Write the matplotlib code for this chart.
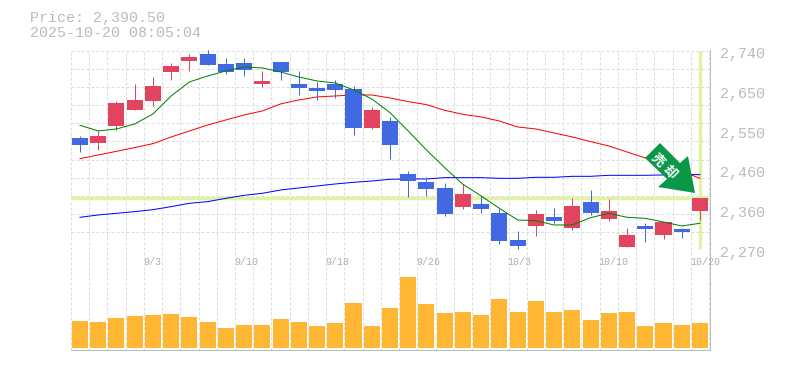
import matplotlib
matplotlib.use("Agg")
import matplotlib.pyplot as plt
from matplotlib.patches import Polygon

# candle data
opens = [2534.5, 2522.7, 2562.8, 2600.5, 2621.6, 2689.9, 2715.8, 2732.3, 2708.8, 2711.1, 2661.7, 2713.5, 2661.7, 2652.3, 2661.7, 2649.9, 2558.0, 2574.5,
         2449.7, 2430.9, 2416.8, 2372.0, 2379.1, 2357.9, 2294.3, 2327.3, 2348.5, 2322.6, 2383.8, 2343.8, 2277.8, 2327.3, 2306.1, 2320.2, 2362.6]
closes = [2518.0, 2539.2, 2616.9, 2624.0, 2657.0, 2704.0, 2725.3, 2706.4, 2689.9, 2694.6, 2668.7, 2689.9, 2652.3, 2645.2, 2647.6, 2558.0, 2600.5, 2518.0,
          2433.2, 2414.4, 2355.5, 2402.6, 2367.3, 2291.9, 2280.2, 2355.5, 2339.0, 2374.4, 2357.9, 2362.6, 2306.1, 2320.2, 2336.7, 2313.1, 2392.0]
highs = [2539.2, 2550.2, 2621.6, 2661.7, 2678.2, 2711.1, 2732.3, 2741.8, 2722.9, 2722.9, 2692.3, 2713.5, 2692.3, 2666.4, 2671.1, 2657.0, 2607.5, 2584.0,
         2456.8, 2442.7, 2428.5, 2426.2, 2397.9, 2367.3, 2315.5, 2365.0, 2369.7, 2393.2, 2412.0, 2390.9, 2322.6, 2334.3, 2336.7, 2322.6, 2392.0]
lows = [2501.5, 2506.3, 2553.3, 2600.5, 2609.9, 2671.1, 2692.3, 2706.4, 2685.2, 2680.5, 2654.6, 2671.1, 2635.8, 2624.0, 2628.7, 2541.6, 2555.7, 2485.1,
        2396.4, 2397.9, 2350.8, 2367.3, 2357.9, 2284.9, 2273.1, 2303.7, 2334.3, 2317.9, 2353.2, 2339.0, 2277.8, 2289.6, 2296.6, 2299.0, 2341.4]

ma_green = [2564.3, 2551.0, 2555.7, 2567.5, 2591.0, 2633.4, 2666.4, 2680.5, 2692.3, 2701.7, 2699.4, 2689.9, 2678.2, 2668.7, 2664.0, 2647.6, 2626.4, 2594.2,
            2551.0, 2506.3, 2464.6, 2425.4, 2397.9, 2368.9, 2341.4, 2339.8, 2329.6, 2329.6, 2346.9, 2357.1, 2347.7, 2345.3, 2336.7, 2327.3, 2333.6]
ma_red = [2485.8, 2494.5, 2503.1, 2511.8, 2521.2, 2536.9, 2551.0, 2565.1, 2576.9, 2588.7, 2598.1, 2614.6, 2624.0, 2631.1, 2633.4, 2635.8, 2635.8, 2628.7,
          2620.1, 2613.0, 2599.7, 2590.2, 2584.0, 2574.5, 2560.4, 2555.7, 2546.3, 2536.9, 2525.9, 2515.7, 2501.5, 2487.4, 2471.7, 2456.0, 2439.5]
ma_blue = [2347.7, 2353.2, 2357.1, 2361.0, 2365.7, 2372.8, 2380.6, 2384.6, 2392.4, 2399.5, 2404.2, 2412.0, 2416.8, 2421.5, 2426.2, 2430.1, 2433.2, 2437.2,
           2438.0, 2438.0, 2441.1, 2441.1, 2441.1, 2439.5, 2439.5, 2441.9, 2441.9, 2444.2, 2444.2, 2446.6, 2446.6, 2446.6, 2447.4, 2448.2, 2448.2]

volumes = [810, 780, 900, 960, 990, 1020, 930, 780, 600, 690, 690, 870, 780, 660, 750, 1350, 660, 1200,
           2130, 1320, 1050, 1080, 990, 1470, 1080, 1410, 1080, 1140, 840, 1050, 1080, 660, 750, 690, 750]

# tick spots are even, the labels are rounded to tens
y_ticks = [2270, 2364, 2458, 2552, 2646, 2740]
y_tick_labels = ["2,270", "2,360", "2,460", "2,550", "2,650", "2,740"]
date_pos = [4, 9, 14, 19, 24, 29, 34]
date_labels = ["9/3", "9/10", "9/18", "9/26", "10/3", "10/10", "10/20"]
last_price = 2392.0

W, H = 785, 370
UP = "#e2445f"
DOWN = "#4169e1"
GRID = "#dddddd"
AXIS = "#bbbbbb"
HILITE = "#e0f3a0"
MONO = "Liberation Mono"
DASH = (0, (3, 2))
PX = 0.72  # one pixel at dpi 100


def px_rect(left, top, right, bottom):
    return [left / W, 1 - bottom / H, (right - left) / W, (bottom - top) / H]


fig = plt.figure(figsize=(W / 100, H / 100), dpi=100)
ax = fig.add_axes(px_rect(70.5, 50.7, 710, 250.3))
vol = fig.add_axes(px_rect(70.5, 250.3, 710, 350))

n = len(opens)
xs = list(range(n))
xlim = (-0.52, 34.55)

# price pane
ax.set_xlim(xlim)
ax.set_ylim(2270, 2740)
ax.set_xticks([i - 0.5 for i in range(n + 1)])
ax.set_yticks([2270 + i * 470 / 11 for i in range(12)])
ax.tick_params(length=0, labelbottom=False, labelleft=False)
ax.grid(True, color=GRID, linestyle=DASH, linewidth=PX)
ax.set_axisbelow(True)
for s in ["top", "left", "right"]:
    ax.spines[s].set_visible(False)
ax.spines["bottom"].set_color(AXIS)
ax.spines["bottom"].set_linewidth(PX)

ax.axhline(last_price, color=HILITE, linewidth=3.4 * PX, zorder=1)
ax.plot([34, 34], [2272, 2740], color=HILITE, linewidth=3.4 * PX, zorder=1, solid_capstyle="butt")

ax.plot(xs, ma_red, color="#ff0000", linewidth=PX, zorder=2)
ax.plot(xs, ma_blue, color="#0000ff", linewidth=PX, zorder=2)

for i in xs:
    c = UP if closes[i] >= opens[i] else DOWN
    ax.plot([i, i], [lows[i], highs[i]], color=c, linewidth=PX, zorder=3, clip_on=False, solid_capstyle="butt")
    ax.bar(i, abs(closes[i] - opens[i]), bottom=min(opens[i], closes[i]), width=0.88, color=c, zorder=3, clip_on=False)

ax.plot(xs, ma_green, color="#007f00", linewidth=PX, zorder=4)

# volume pane
vol.set_xlim(xlim)
vol.set_ylim(-60, 2930)
vol.set_xticks([i - 0.5 for i in range(n + 1)])
vol.set_yticks([])
vol.tick_params(length=0, labelbottom=False)
vol.grid(True, axis="x", color=GRID, linestyle=DASH, linewidth=PX)
vol.set_axisbelow(True)
vol.bar(xs, volumes, width=0.88, color="#ffb733", zorder=3)
for s in ["top", "left", "right"]:
    vol.spines[s].set_visible(False)
vol.spines["bottom"].set_color(AXIS)
vol.spines["bottom"].set_linewidth(PX)

# right border runs through both panes
fig.add_artist(plt.Line2D([710 / W, 710 / W], [1 - 50 / H, 1 - 350 / H], color=AXIS, linewidth=PX))

for t, lab in zip(y_ticks, y_tick_labels):
    ax.annotate(lab, xy=(710, t), xycoords=("figure pixels", "data"), xytext=(10, -3), textcoords="offset pixels",
                ha="left", va="center", family=MONO, fontsize=10.8, color=AXIS, annotation_clip=False)

# date labels start at the gridline left of their candle
for p, lab in zip(date_pos, date_labels):
    vol.annotate(lab, xy=(p - 0.5, 1), xycoords=("data", "axes fraction"), xytext=(-1, -12), textcoords="offset pixels",
                 ha="left", va="center", family=MONO, fontsize=7.2, color="#b0b0b0", annotation_clip=False)

fig.text(30 / W, 1 - 18 / H, "Price: 2,390.50", family=MONO, fontsize=10.8, color=AXIS, va="center")
fig.text(30 / W, 1 - 33 / H, "2025-10-20 08:05:04", family=MONO, fontsize=10.8, color=AXIS, va="center")

# sell arrow
arrow = [(645, 158), (660, 143), (680, 163), (688, 156), (695, 193), (658, 187), (667, 179)]
fig.add_artist(Polygon([(x / W, 1 - y / H) for x, y in arrow], closed=True, transform=fig.transFigure,
                       facecolor="#0a9848", edgecolor="none", zorder=10))
fig.text(657.5 / W, 1 - 160 / H, "売", family="Noto Sans CJK JP", fontsize=9.5, fontweight="bold", color="white",
         rotation=-45, ha="center", va="center", zorder=11)
fig.text(670 / W, 1 - 172 / H, "却", family="Noto Sans CJK JP", fontsize=9.5, fontweight="bold", color="white",
         rotation=-45, ha="center", va="center", zorder=11)

fig.savefig("out.png", dpi=100)
